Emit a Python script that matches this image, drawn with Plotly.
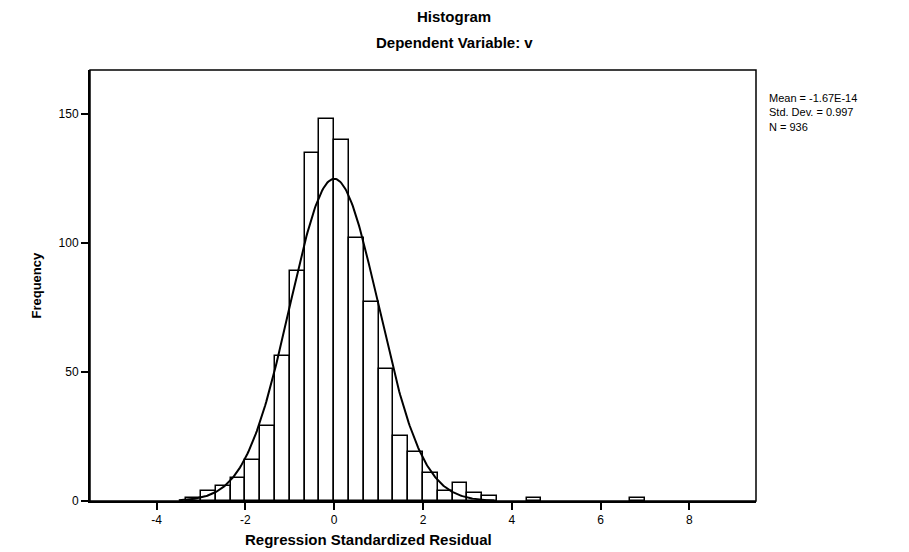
import numpy as np
import plotly.graph_objects as go

# Histogram bins: left edge index k -> bin [k/3, (k+1)/3]
bin_index = [-10, -9, -8, -7, -6, -5, -4, -3, -2, -1, 0, 1, 2, 3, 4, 5, 6, 7, 8, 9, 10, 13, 20]
counts = [1, 4, 6, 9, 16, 29, 56, 89, 135, 148, 140, 102, 77, 51, 25, 19, 11, 4, 7, 3, 2, 1, 1]
bin_width = 1 / 3

mean = -1.67e-14
std = 0.997
n_obs = 936

x_ticks = [-4, -2, 0, 2, 4, 6, 8]
y_ticks = [0, 50, 100, 150]

centers = [(k + 0.5) * bin_width for k in bin_index]

xc = np.linspace(-3.5, 3.6, 300)
yc = n_obs * bin_width * np.exp(-0.5 * ((xc - mean) / std) ** 2) / (std * np.sqrt(2 * np.pi))

font = "Liberation Sans, Arial, sans-serif"

fig = go.Figure()
fig.add_trace(go.Bar(
    x=centers, y=counts, width=bin_width,
    marker=dict(color="white", line=dict(color="black", width=1.5)),
    showlegend=False, hoverinfo="x+y",
))
fig.add_trace(go.Scatter(
    x=xc, y=yc, mode="lines", line=dict(color="black", width=2),
    showlegend=False, hoverinfo="skip",
))

fig.update_layout(
    width=901, height=544,
    margin=dict(l=82, r=153, t=62, b=51),
    paper_bgcolor="white", plot_bgcolor="white",
    font=dict(family=font, color="black", size=11),
    bargap=0,
    xaxis=dict(range=[-5.5, 9.5], tickvals=x_ticks, ticktext=[str(v) for v in x_ticks],
               showgrid=False, zeroline=False, showline=True, linecolor="black", linewidth=2,
               ticks="outside", ticklen=7, tickwidth=2, tickcolor="black",
               tickfont=dict(size=12, family=font)),
    yaxis=dict(range=[0, 167], tickvals=y_ticks, ticktext=[str(v) for v in y_ticks],
               showgrid=False, zeroline=False, showline=True, linecolor="black", linewidth=2,
               ticks="outside", ticklen=7, tickwidth=2, tickcolor="black",
               tickfont=dict(size=12, family=font)),
    shapes=[dict(type="rect", xref="paper", yref="paper", x0=0, x1=1, y0=0, y1=1,
                 line=dict(color="black", width=1.5), fillcolor="rgba(0,0,0,0)", layer="above")],
    annotations=[
        dict(text="<b>Histogram</b>", xref="paper", yref="paper", x=(454 - 90) / 666, y=1 + (70 - 17) / 431,
             showarrow=False, font=dict(size=15, family=font), xanchor="center", yanchor="middle"),
        dict(text="<b>Dependent Variable: v</b>", xref="paper", yref="paper", x=(454 - 90) / 666, y=1 + (70 - 42) / 431,
             showarrow=False, font=dict(size=15, family=font), xanchor="center", yanchor="middle"),
        dict(text="<b>Frequency</b>", xref="paper", yref="paper", x=(36 - 90) / 666, y=0.5,
             showarrow=False, textangle=-90, font=dict(size=13, family=font), xanchor="center", yanchor="middle"),
        dict(text="<b>Regression Standardized Residual</b>", xref="paper", yref="paper", x=(368 - 90) / 666,
             y=-(539 - 501) / 431, showarrow=False, font=dict(size=15, family=font),
             xanchor="center", yanchor="middle"),
        dict(text=f"Mean = {mean:.2E}<br>Std. Dev. = {std}<br>N = {n_obs}",
             xref="paper", yref="paper", x=(767 - 90) / 666, y=1 - (90 - 70) / 431,
             showarrow=False, align="left", xanchor="left", yanchor="top",
             font=dict(size=11, family=font)),
    ],
)

fig.write_html("out.html")
